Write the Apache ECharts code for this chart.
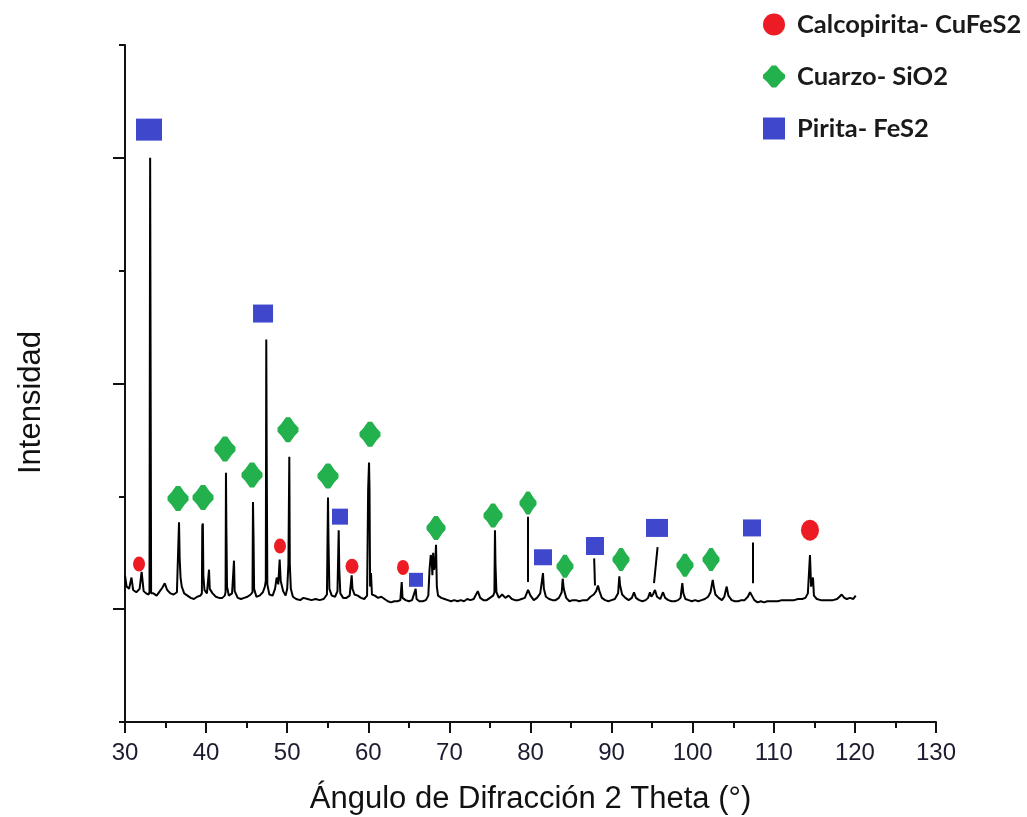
<!DOCTYPE html>
<html><head><meta charset="utf-8">
<script src="https://cdn.jsdelivr.net/npm/echarts@6/dist/echarts.min.js"></script>
<style>html,body{margin:0;padding:0;background:#fff}#c{width:1027px;height:817px}</style>
</head><body><div id="c"></div>
<script>
// ---------- DATA ----------
const seriesNames = ['Calcopirita- CuFeS2', 'Cuarzo- SiO2', 'Pirita- FeS2'];
const xAxisTitle = 'Ángulo de Difracción 2 Theta (°)';
const yAxisTitle = 'Intensidad';
const xTicks = { min: 30, max: 130, step: 10 };
const yMajorTicks = [100, 300, 500];
const yMinorTicks = [0, 200, 400, 600];

// diffractogram: [2θ (°), intensity (a.u.)]
const diffractogram = [
  [30.0,130],[30.2,120],[30.5,118],[30.8,128],[31.0,117],[31.4,115],[31.8,118],[32.05,133],[32.3,116],[32.6,114],[32.9,113],
  [33.02,115],[33.06,308],[33.1,500],[33.16,308],[33.22,114],
  [33.5,114],[33.9,112],[34.3,116],[34.6,119],[34.9,123],[35.2,117],[35.6,114],[36.0,113],[36.4,115],
  [36.58,116],[36.66,177],[36.74,145],[36.85,128],[37.0,120],[37.3,114],[37.7,112],[38.1,110],[38.5,109],[38.9,111],[39.3,112],
  [39.48,114],[39.53,174],[39.6,176],[39.66,130],[39.8,117],[40.1,114],[40.36,135],[40.45,118],[40.8,114],[41.2,111],[41.6,110],[42.0,110],[42.3,112],
  [42.4,115],[42.45,221],[42.5,172],[42.58,120],[42.8,112],[43.2,114],[43.44,143],[43.52,116],[43.9,110],[44.3,109],[44.7,110],[45.1,111],[45.5,113],
  [45.72,115],[45.78,195],[45.84,168],[45.92,118],[46.2,111],[46.6,112],[47.0,115],[47.25,120],
  [47.36,125],[47.42,339],[47.47,239],[47.55,122],[47.8,113],[48.2,112],[48.5,118],[48.7,128],[48.9,122],[49.07,144],[49.2,125],[49.5,116],[49.8,112],[50.0,118],[50.15,140],
  [50.26,235],[50.32,140],[50.45,118],[50.7,111],[51.1,109],[51.6,108],[52.0,110],[52.5,109],[53.0,108],[53.5,109],[54.0,108],[54.5,109],[54.9,113],
  [55.03,199],[55.09,161],[55.2,118],[55.5,112],[55.9,111],[56.2,116],
  [56.35,170],[56.42,136],[56.55,114],[56.9,110],[57.3,110],[57.7,112],[57.95,130],[58.05,118],[58.3,113],[58.7,112],[59.1,110],[59.5,109],[59.85,112],
  [59.98,206],[60.09,230],[60.15,206],[60.22,120],[60.33,132],[60.45,113],[60.8,112],[61.2,110],[61.6,111],[62.0,109],[62.4,107],[62.8,106],[63.2,107],[63.6,107],[63.95,108],
  [64.12,124],[64.22,110],[64.6,108],[65.0,107],[65.4,108],[65.84,118],[65.95,109],[66.3,107],[66.7,107],[67.1,108],[67.4,112],
  [67.55,135],[67.7,148],[67.82,144],[67.9,130],[68.0,150],[68.1,135],[68.25,140],[68.35,157],[68.45,120],[68.6,112],[69.0,110],[69.4,109],[69.8,108],[70.2,107],[70.6,108],[71.0,107],[71.4,108],[71.8,107],[72.2,109],[72.6,108],[73.0,109],[73.5,116],[73.8,110],[74.2,108],[74.6,108],[75.0,110],[75.4,112],
  [75.55,115],[75.62,170],[75.68,140],[75.8,115],[76.1,110],[76.5,113],[76.9,110],[77.3,112],[77.7,109],[78.1,108],[78.5,108],[78.9,109],[79.3,110],[79.7,117],[80.0,112],[80.4,108],[80.8,110],[81.2,114],[81.54,132],[81.65,118],[81.9,111],[82.3,109],[82.7,108],[83.1,108],[83.5,110],[83.85,115],[83.97,127],[84.1,118],[84.4,110],[84.8,107],[85.2,108],[85.6,108],[86.0,107],[86.5,108],[87.0,108],[87.4,111],[87.8,113],[88.1,116],[88.32,121],[88.5,116],[88.8,110],[89.2,108],[89.6,107],[90.0,108],[90.4,109],[90.8,114],[90.95,129],[91.05,121],[91.3,113],[91.7,110],[92.1,108],[92.5,110],[92.76,115],[93.0,110],[93.4,108],[93.8,107],[94.2,108],[94.5,110],[94.73,115],[94.9,111],[95.1,113],[95.35,117],[95.6,111],[96.0,109],[96.34,115],[96.6,110],[97.0,108],[97.4,107],[97.8,107],[98.2,108],[98.5,110],[98.72,123],[98.85,114],[99.1,109],[99.5,108],[99.9,107],[100.3,108],[100.7,107],[101.1,108],[101.5,109],[101.9,111],[102.2,115],[102.47,126],[102.6,120],[102.8,113],[103.2,110],[103.6,108],[103.9,111],[104.19,120],[104.4,112],[104.8,108],[105.2,107],[105.6,107],[106.0,108],[106.4,108],[106.8,111],[107.07,115],[107.3,112],[107.6,108],[108.0,106],[108.4,107],[108.8,106],[109.2,107],[109.6,107],[110.0,107],[110.5,107],[111.0,108],[111.5,108],[112.0,108],[112.5,108],[113.0,109],[113.5,109],[113.9,110],[114.2,114],[114.46,148],[114.6,120],[114.83,128],[114.95,112],[115.3,109],[115.8,108],[116.3,108],[116.8,108],[117.3,108],[117.8,109],[118.1,111],[118.37,113],[118.7,110],[119.0,109],[119.4,110],[119.8,109],[120.1,112]
];

// phase markers [2θ, intensity]
const chalcopyrite = [[31.73,140],[49.11,156],[57.99,138],[64.28,137],[114.46,170]];
const quartz = [[36.54,198],[39.62,199],[42.33,242],[45.66,219],[50.10,259],[55.03,218],[60.21,255],[68.35,172],[75.38,183],[79.69,194],[84.25,138],[91.16,144],[99.05,139],[102.26,144]];
const pyrite = [[32.96,525],[47.02,362],[56.51,182],[65.88,126],[81.54,146],[87.95,156],[95.60,172],[107.31,172]];
// guide lines from markers down to the pattern
const guideLines = [
  [[79.69,182],[79.69,124]],
  [[87.85,145],[87.95,121]],
  [[95.67,155],[95.23,123]],
  [[107.40,159],[107.40,123]]
];

// ---------- STYLE ----------
const RED = '#ED1C24', GREEN = '#22B14C', BLUE = '#3F48CC';
const DIAMOND = 'path://M40,0 L60,0 L82,26 L100,42 L100,58 L82,74 L60,100 L40,100 L18,74 L0,58 L0,42 L18,26 Z';
const pyriteSizes = [[26,22],[20,18],[16,16],[14,14],[18,16],[18,18],[22,18],[18,17]];
const chalcoSizes = [[12,15],[12,15],[13,15],[12,15],[18,21]];

const chart = echarts.init(document.getElementById('c'), null, { renderer: 'canvas' });
const axisFont = 'Liberation Sans, Arial, sans-serif';

chart.setOption({
  animation: false,
  backgroundColor: '#fff',
  grid: { left: 125, right: 91, top: 45, bottom: 95, containLabel: false, outerBoundsMode: 'none' },
  legend: {
    orient: 'vertical', left: 758, top: 4, itemGap: 21, itemWidth: 22, itemHeight: 22,
    textStyle: { fontFamily: 'Lato, sans-serif', fontWeight: 'bold', fontSize: 25.5, color: '#1a1a1a', padding: [0,0,0,7], lineHeight: 31 },
    data: [
      { name: seriesNames[0], icon: 'circle' },
      { name: seriesNames[1], icon: DIAMOND },
      { name: seriesNames[2], icon: 'rect' }
    ]
  },
  xAxis: {
    type: 'value', min: xTicks.min, max: xTicks.max, interval: xTicks.step,
    name: xAxisTitle, nameLocation: 'middle', nameGap: 62,
    nameTextStyle: { fontFamily: axisFont, fontSize: 31, color: '#111' },
    axisLine: { show: true, onZero: false, lineStyle: { color: '#111', width: 2 } },
    axisTick: { show: true, length: 11, lineStyle: { color: '#111', width: 2 } },
    minorTick: { show: true, splitNumber: 2, length: 6, lineStyle: { color: '#111', width: 2 } },
    axisLabel: { fontFamily: axisFont, fontSize: 24, color: '#1c1c30', margin: 19 },
    splitLine: { show: false }
  },
  yAxis: [
    {
      type: 'value', min: 0, max: 600,
      name: yAxisTitle, nameLocation: 'middle', nameGap: 78,
      nameTextStyle: { fontFamily: axisFont, fontSize: 31, color: '#111', padding: [0, 38, 0, 0] },
      axisLine: { show: true, onZero: false, lineStyle: { color: '#111', width: 2 } },
      axisTick: { show: true, length: 12, customValues: yMajorTicks, lineStyle: { color: '#111', width: 2 } },
      axisLabel: { show: false },
      splitLine: { show: false }
    },
    {
      type: 'value', min: 0, max: 600, position: 'left',
      axisLine: { show: false },
      axisTick: { show: true, length: 6, customValues: yMinorTicks, lineStyle: { color: '#111', width: 2 } },
      axisLabel: { show: false },
      splitLine: { show: false }
    }
  ],
  series: [
    {
      name: 'pattern', type: 'line', data: diffractogram, showSymbol: false, symbol: 'none',
      lineStyle: { color: '#000', width: 2 }, z: 2, silent: true
    },
    {
      name: 'guides', type: 'lines', coordinateSystem: 'cartesian2d',
      data: guideLines.map(c => ({ coords: c })),
      lineStyle: { color: '#000', width: 2, opacity: 1 }, z: 2, silent: true
    },
    {
      name: seriesNames[0], type: 'scatter', data: chalcopyrite, symbol: 'circle',
      symbolSize: (v, p) => chalcoSizes[p.dataIndex], itemStyle: { color: RED, opacity: 1 }, z: 5
    },
    {
      name: seriesNames[1], type: 'scatter', data: quartz, symbol: DIAMOND,
      symbolSize: (v, p) => p.dataIndex < 7 ? [21, 25] : (p.dataIndex < 9 ? [19, 24] : [17, 23]),
      itemStyle: { color: GREEN, opacity: 1 }, z: 5
    },
    {
      name: seriesNames[2], type: 'scatter', data: pyrite, symbol: 'rect',
      symbolSize: (v, p) => pyriteSizes[p.dataIndex], itemStyle: { color: BLUE, opacity: 1 }, z: 5
    }
  ]
});
</script>
</body></html>
